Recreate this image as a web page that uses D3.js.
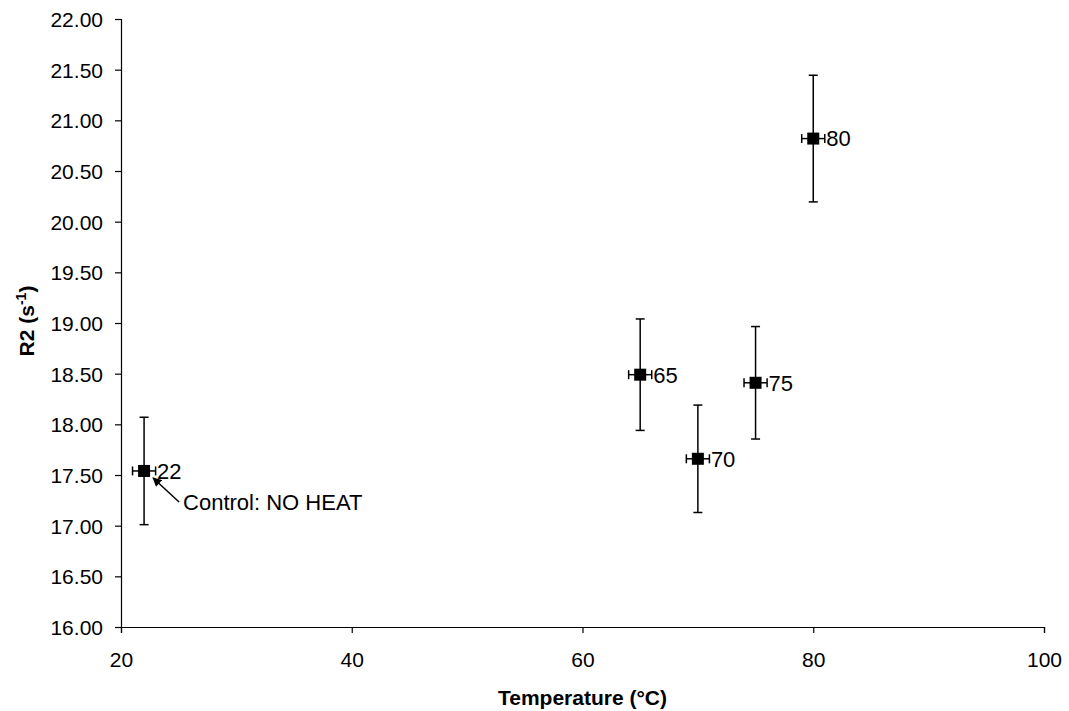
<!DOCTYPE html>
<html>
<head>
<meta charset="utf-8">
<script src="https://cdn.jsdelivr.net/npm/d3@7"></script>
<style>
  body { margin: 0; background: #fff; }
  svg { display: block; font-family: Arial, "Liberation Sans", sans-serif; }
</style>
</head>
<body>
<div id="chart"></div>
<script>
// values
var temps = [22, 65, 70, 75, 80];
var r2 = [17.54, 18.49, 17.66, 18.41, 20.82];
var r2Err = [0.53, 0.55, 0.53, 0.555, 0.625];
var tempErr = [1, 1, 1, 1, 1];
var pointLabels = ["22", "65", "70", "75", "80"];
var xTicks = [20, 40, 60, 80, 100];
var yTicks = d3.range(16, 22.001, 0.5);

var width = 1069, height = 711;
var margin = {top: 19, right: 25, bottom: 84, left: 121};

var x = d3.scaleLinear().domain([20, 100]).range([margin.left, width - margin.right]);
var y = d3.scaleLinear().domain([16, 22]).range([height - margin.bottom, margin.top]);

var svg = d3.select("#chart").append("svg")
    .attr("width", width)
    .attr("height", height);

svg.append("defs").append("marker")
    .attr("id", "arrow")
    .attr("viewBox", "0 0 10 10")
    .attr("refX", 9).attr("refY", 5)
    .attr("markerWidth", 10).attr("markerHeight", 9)
    .attr("markerUnits", "userSpaceOnUse")
    .attr("orient", "auto")
  .append("path")
    .attr("d", "M0,0 L10,5 L0,10 z")
    .attr("fill", "#000");

// axes
var yAxis = svg.append("g")
    .attr("transform", "translate(" + margin.left + ",0)")
    .call(d3.axisLeft(y).tickValues(yTicks).tickFormat(d3.format(".2f")).tickSizeOuter(0).tickSize(6));

var xAxis = svg.append("g")
    .attr("transform", "translate(0," + (height - margin.bottom) + ")")
    .call(d3.axisBottom(x).tickValues(xTicks).tickSizeOuter(0).tickSize(6));

[xAxis, yAxis].forEach(function(a) {
  a.selectAll("text").style("font-size", "21px").attr("fill", "#000")
      .style("font-family", "Arial, 'Liberation Sans', sans-serif");
  a.selectAll("line, path").attr("stroke", "#000").attr("stroke-width", 1.2);
});
xAxis.selectAll("text").attr("y", 40).attr("dy", 0);
yAxis.selectAll("text").attr("x", -18).attr("dy", "0.36em");

// axis titles
svg.append("text")
    .attr("x", (x(20) + x(100)) / 2)
    .attr("y", 705)
    .attr("text-anchor", "middle")
    .style("font-size", "21px")
    .style("font-weight", "bold")
    .text("Temperature (°C)");

var yt = svg.append("text")
    .attr("transform", "translate(34,321) rotate(-90)")
    .attr("text-anchor", "middle")
    .style("font-size", "21px")
    .style("font-weight", "bold");
yt.append("tspan").text("R2 (s");
yt.append("tspan").attr("dy", -8).style("font-size", "14px").text("-1");
yt.append("tspan").attr("dy", 8).text(")");

// error bars and points
var idx = d3.range(temps.length);
var cap = 4.5;

var g = svg.append("g").attr("stroke", "#000").attr("stroke-width", 1.5);

idx.forEach(function(i) {
  var cx = x(temps[i]), cy = y(r2[i]);
  var yTop = y(r2[i] + r2Err[i]), yBot = y(r2[i] - r2Err[i]);
  var xL = x(temps[i] - tempErr[i]), xR = x(temps[i] + tempErr[i]);
  g.append("line").attr("x1", cx).attr("x2", cx).attr("y1", yTop).attr("y2", yBot);
  g.append("line").attr("x1", cx - cap).attr("x2", cx + cap).attr("y1", yTop).attr("y2", yTop);
  g.append("line").attr("x1", cx - cap).attr("x2", cx + cap).attr("y1", yBot).attr("y2", yBot);
  g.append("line").attr("x1", xL).attr("x2", xR).attr("y1", cy).attr("y2", cy);
  g.append("line").attr("x1", xL).attr("x2", xL).attr("y1", cy - cap).attr("y2", cy + cap);
  g.append("line").attr("x1", xR).attr("x2", xR).attr("y1", cy - cap).attr("y2", cy + cap);
});

svg.selectAll(".pt").data(idx)
  .enter().append("rect")
    .attr("class", "pt")
    .attr("x", function(i) { return x(temps[i]) - 6; })
    .attr("y", function(i) { return y(r2[i]) - 6; })
    .attr("width", 12)
    .attr("height", 12)
    .attr("fill", "#000");

svg.selectAll(".lbl").data(idx)
  .enter().append("text")
    .attr("class", "lbl")
    .attr("x", function(i) { return x(temps[i]) + 13; })
    .attr("y", function(i) { return y(r2[i]); })
    .attr("dy", "0.36em")
    .style("font-size", "22px")
    .text(function(i) { return pointLabels[i]; });

// annotation for the control point
var c0x = x(temps[0]), c0y = y(r2[0]);
svg.append("line")
    .attr("x1", c0x + 35).attr("y1", c0y + 31)
    .attr("x2", c0x + 9).attr("y2", c0y + 7)
    .attr("stroke", "#000")
    .attr("stroke-width", 1.5)
    .attr("marker-end", "url(#arrow)");

svg.append("text")
    .attr("x", c0x + 39)
    .attr("y", c0y + 39)
    .style("font-size", "22px")
    .text("Control: NO HEAT");
</script>
</body>
</html>
